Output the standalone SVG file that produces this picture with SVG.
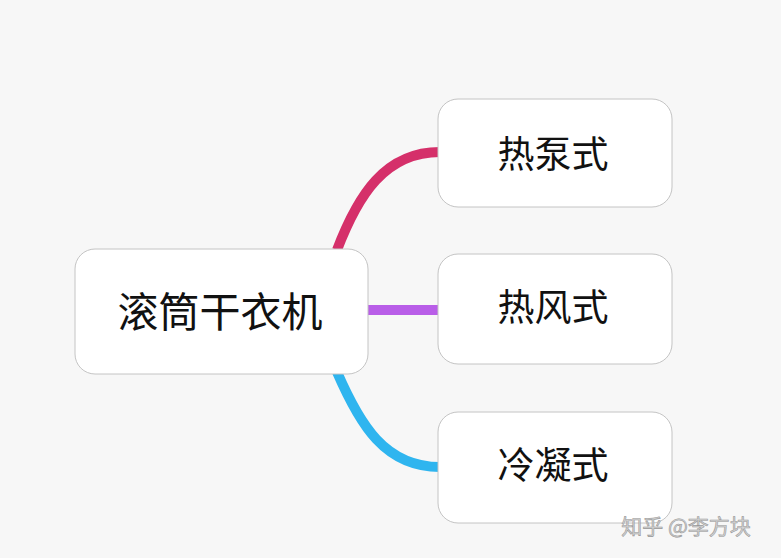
<svg xmlns="http://www.w3.org/2000/svg" width="781" height="558" viewBox="0 0 781 558">
<style>
.box{fill:#ffffff;stroke:#c4c4c4;stroke-width:1}
.lbl{font-family:"Noto Sans CJK SC","Noto Sans",sans-serif;fill:#111;text-anchor:middle;dominant-baseline:central}
.edge{fill:none;stroke-width:10;stroke-linecap:butt}
</style>
<rect width="781" height="558" fill="#f7f7f7"/>
<g id="connectors">
<path class="edge" stroke="#d5306a" d="M337 250 C 358 195, 385 152, 440 152"/>
<path class="edge" stroke="#b95ee8" d="M366 310 L 440 310"/>
<path class="edge" stroke="#2fb5ef" d="M337 372 C 360 425, 385 467, 440 467"/>
</g>
<g id="root">
<rect class="box" x="75" y="249" width="293" height="125" rx="20"/>
<text class="lbl" x="220" y="309" font-size="41">滚筒干衣机</text>
</g>
<g id="n1">
<rect class="box" x="438" y="99" width="234" height="108" rx="20"/>
<text class="lbl" x="553" y="152" font-size="37">热泵式</text>
</g>
<g id="n2">
<rect class="box" x="438" y="254" width="234" height="110" rx="20"/>
<text class="lbl" x="553" y="305" font-size="37">热风式</text>
</g>
<g id="n3">
<rect class="box" x="438" y="412" width="234" height="111" rx="20"/>
<text class="lbl" x="553" y="463" font-size="37">冷凝式</text>
</g>
<text x="686" y="525" font-family="Noto Sans CJK SC,sans-serif" font-size="21" fill="#d4d4d4" stroke="#999999" stroke-width="0.6" text-anchor="middle" dominant-baseline="central">知乎 @李方块</text>
</svg>
